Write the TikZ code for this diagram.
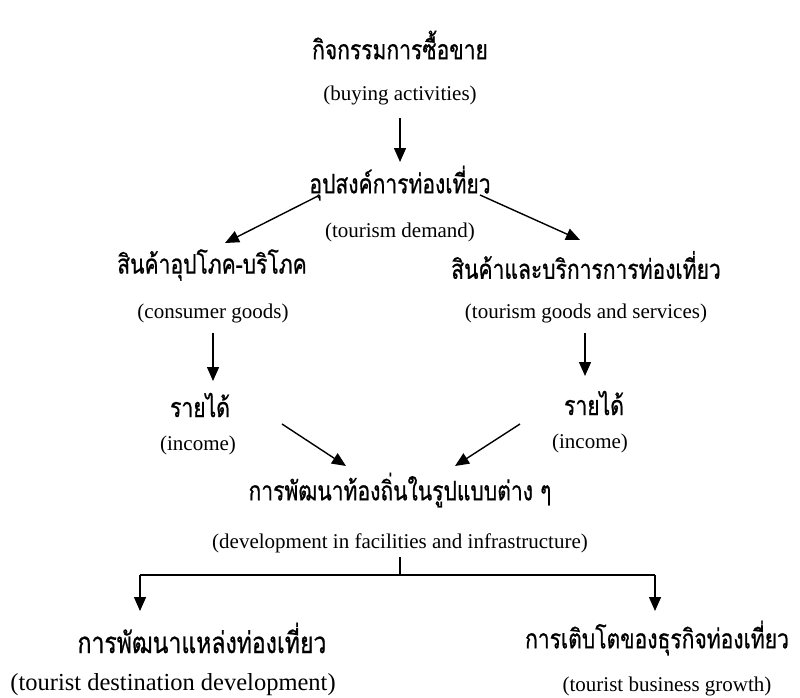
\documentclass[tikz,border=0pt]{standalone}
\usepackage{fontspec}
\setmainfont{Liberation Serif}
\newfontfamily\thaifont[Script=Thai,FakeStretch=0.78,FakeBold=0.7]{Loma}
\usetikzlibrary{arrows.meta}
\tikzstyle{every node}=[inner sep=0pt]
\tikzstyle{th}=[font=\thaifont\fontsize{27}{30}\selectfont]
\tikzstyle{thbig}=[font=\thaifont\fontsize{29.5}{32}\selectfont]
\tikzstyle{en}=[font=\fontsize{21}{24}\selectfont]
\tikzstyle{enbig}=[font=\fontsize{24.5}{27}\selectfont]
\tikzstyle{flow}=[line width=1.4pt,-{Triangle[length=14pt,width=12pt]}]

\begin{document}
\begin{tikzpicture}[x=1pt,y=-1pt]
  \useasboundingbox (0,0) rectangle (800,698);
  % labels, Thai with English below
  \node[th] (buyth) at (400,45) {กิจกรรมการซื้อขาย};
  \node[en] (buyen) at (400,95) {(buying activities)};
  \node[th] (demth) at (400,183) {อุปสงค์การท่องเที่ยว};
  \node[en] (demen) at (400,232) {(tourism demand)};
  \node[th] (conth) at (212,265) {สินค้าอุปโภค-บริโภค};
  \node[en] (conen) at (213,313) {(consumer goods)};
  \node[th] (touth) at (586,265) {สินค้าและบริการการท่องเที่ยว};
  \node[en] (touen) at (586,313) {(tourism goods and services)};
  \node[th] (incthl) at (200,405) {รายได้};
  \node[en] (incenl) at (198,445) {(income)};
  \node[th] (incthr) at (594,403) {รายได้};
  \node[en] (incenr) at (590,443) {(income)};
  \node[th] (devth) at (400,490) {การพัฒนาท้องถิ่นในรูปแบบต่าง ๆ};
  \node[en] (deven) at (400,543) {(development in facilities and infrastructure)};
  \node[thbig] (desth) at (202,638) {การพัฒนาแหล่งท่องเที่ยว};
  \node[enbig] (desen) at (173,685) {(tourist destination development)};
  \node[th] (busth) at (657,638) {การเติบโตของธุรกิจท่องเที่ยว};
  \node[en] (busen) at (667,686) {(tourist business growth)};
  % free ends of connectors
  \coordinate (a1) at (400,118); \coordinate (a2) at (400,162);
  \coordinate (l1) at (318,196); \coordinate (l2) at (225,243);
  \coordinate (r1) at (480,195); \coordinate (r2) at (580,240);
  \coordinate (cl1) at (213,333); \coordinate (cl2) at (213,381);
  \coordinate (cr1) at (585,333); \coordinate (cr2) at (585,376);
  \coordinate (il1) at (282,424); \coordinate (il2) at (346,466);
  \coordinate (ir1) at (520,424); \coordinate (ir2) at (455,466);
  \coordinate (stem) at (400,557); \coordinate (fork) at (400,575);
  \coordinate (fl) at (140,575); \coordinate (fr) at (655,575);
  \coordinate (tl) at (140,611); \coordinate (tr) at (655,611);
  \draw[flow] (a1) -- (a2);
  \draw[flow] (l1) -- (l2);
  \draw[flow] (r1) -- (r2);
  \draw[flow] (cl1) -- (cl2);
  \draw[flow] (cr1) -- (cr2);
  \draw[flow] (il1) -- (il2);
  \draw[flow] (ir1) -- (ir2);
  \draw[line width=1.4pt] (stem) -- (fork) (fl) -- (fr);
  \draw[flow] (fl) -- (tl);
  \draw[flow] (fr) -- (tr);
\end{tikzpicture}
\end{document}
